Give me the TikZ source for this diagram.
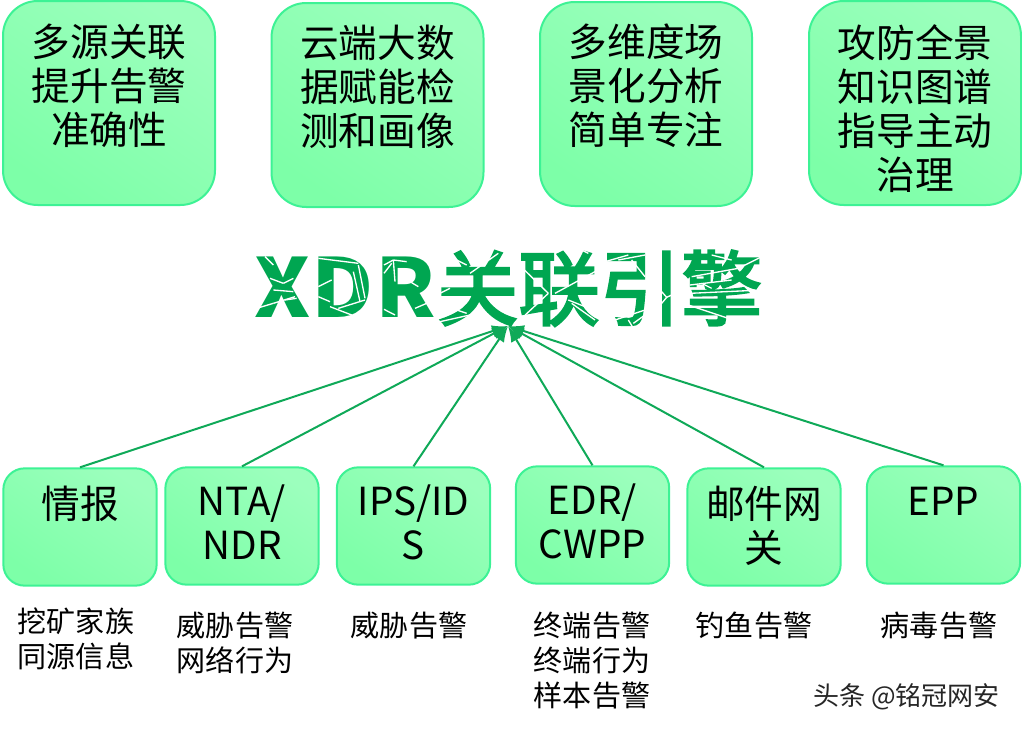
\documentclass[tikz,border=0pt]{standalone}
\usepackage{fontspec}
\setmainfont{Noto Sans CJK SC}
\usetikzlibrary{arrows.meta}
\definecolor{boxline}{HTML}{3DF295}
\definecolor{boxlight}{HTML}{9CFFBD}
\definecolor{boxdark}{HTML}{7DFFA8}
\definecolor{titlegreen}{HTML}{00A651}
\definecolor{arrowgreen}{HTML}{0FA958}
\tikzset{
	bigbox/.style={draw=boxline,line width=1.5pt,rounded corners=26pt,top color=boxlight,bottom color=boxdark,shading angle=-35,inner sep=0pt},
	smallbox/.style={bigbox,rounded corners=16pt},
	boxtext/.style={anchor=north,align=center,inner sep=0pt,font=\fontsize{29}{33}\selectfont},
	notetext/.style={anchor=north,align=center,inner sep=0pt,font=\fontsize{21.8}{26}\selectfont},
	feed/.style={draw=arrowgreen,line width=1.5pt,-{Latex[length=12pt,width=9pt]}},
	crack/.style={draw=white,line width=1pt}
}
\begin{document}
\begin{tikzpicture}[x=0.75pt,y=-0.75pt]
	
	\useasboundingbox (0,0) rectangle (1022,732);
	
	\node[bigbox,minimum width=159pt,minimum height=153pt] (multi) at (109,103) {};
	\node[bigbox,minimum width=159pt,minimum height=153pt] (cloud) at (377.5,105) {};
	\node[bigbox,minimum width=159pt,minimum height=153pt] (scene) at (646,104) {};
	\node[bigbox,minimum width=159pt,minimum height=153pt] (graph) at (915,103) {};
	
	\node[boxtext] (multitext) at (109,24) {多源关联\\提升告警\\准确性};
	\node[boxtext] (cloudtext) at (377.5,25) {云端大数\\据赋能检\\测和画像};
	\node[boxtext] (scenetext) at (646,24) {多维度场\\景化分析\\简单专注};
	\node[boxtext] (graphtext) at (915,24) {攻防全景\\知识图谱\\指导主动\\治理};
	
	\node[anchor=base west,inner sep=0pt,text=titlegreen,font=\fontsize{61}{61}\selectfont] (engine) at (254,319) {\raisebox{1.5pt}{\bfseries\addfontfeature{FakeStretch=1.05}X\kern1ptD\kern1.5ptR}\kern0.5pt\addfontfeature{FakeBold=3}关联引擎};
	\begin{scope}[shift={(250,240)},x=0.25pt,y=-0.25pt]
		\foreach \ax/\ay/\bx/\by in {
			45/50/70/75, 60/115/100/130, 100/130/130/115, 70/150/130/155,
			20/205/70/190, 70/190/135/170, 105/180/140/175,
			205/55/325/70, 205/140/245/120, 325/75/345/175, 205/170/240/185,
			240/200/305/225, 265/205/345/180, 310/95/330/185,
			402/75/430/60, 430/60/470/65, 430/60/435/125, 402/100/425/70,
			402/208/435/225, 480/125/505/140, 495/205/530/190,
			600/50/650/75, 660/100/745/40, 560/165/600/145,
			620/210/650/220, 570/245/660/225
		}
			\draw[crack] (\ax,\ay) -- (\bx,\by);
	\end{scope}
	\begin{scope}[shift={(505,240)},x=0.25pt,y=-0.25pt]
		\foreach \ax/\ay/\bx/\by in {
			40/72/130/160, 130/160/50/235, 150/160/270/95, 230/30/250/40,
			190/180/240/200, 200/190/270/240,
			300/65/370/45, 340/60/420/45, 380/60/420/110, 330/240/420/210,
			370/240/385/265, 385/250/420/225,
			470/155/485/172, 485/172/470/190, 485/172/500/165,
			560/110/700/85, 700/85/770/50, 555/135/680/120, 555/160/770/150,
			550/195/670/235, 590/130/620/145, 620/45/680/60
		}
			\draw[crack] (\ax,\ay) -- (\bx,\by);
	\end{scope}
	
	\coordinate (hub) at (508,326);
	
	\node[smallbox,minimum width=115pt,minimum height=88pt] (intel) at (80,527) {};
	\node[smallbox,minimum width=115pt,minimum height=88pt] (nta) at (242,526) {};
	\node[smallbox,minimum width=115pt,minimum height=88pt] (ips) at (413.5,526) {};
	\node[smallbox,minimum width=115pt,minimum height=88pt] (edr) at (592.5,525) {};
	\node[smallbox,minimum width=115pt,minimum height=88pt] (mail) at (764,527) {};
	\node[smallbox,minimum width=115pt,minimum height=88pt] (epp) at (943.5,525) {};
	
	\node[boxtext] (inteltext) at (80,486) {情报};
	\node[boxtext] (ntatext) at (242,485) {NTA/\\NDR};
	\node[boxtext] (ipstext) at (413.5,485) {IPS/ID\\S};
	\node[boxtext] (edrtext) at (592.5,484) {EDR/\\CWPP};
	\node[boxtext] (mailtext) at (764,486) {邮件网\\关};
	\node[boxtext] (epptext) at (943.5,487) {EPP};
	
	\draw[feed] (intel.north) -- (hub);
	\draw[feed] (nta.north) -- (hub);
	\draw[feed] (ips.north) -- (hub);
	\draw[feed] (edr.north) -- (hub);
	\draw[feed] (mail.north) -- (hub);
	\draw[feed] (epp.north) -- (hub);
	
	\node[notetext] (intelnote) at (76,608) {挖矿家族\\同源信息};
	\node[notetext] (ntanote) at (235,612) {威胁告警\\网络行为};
	\node[notetext] (ipsnote) at (409,612) {威胁告警};
	\node[notetext] (edrnote) at (592,612) {终端告警\\终端行为\\样本告警};
	\node[notetext] (mailnote) at (754,612) {钓鱼告警};
	\node[notetext] (eppnote) at (939,612) {病毒告警};
	
	\node[anchor=west,inner sep=0pt,text=black!85,font=\fontsize{19.5}{22}\selectfont] (mark) at (813,697) {头条 @铭冠网安};
	
\end{tikzpicture}
\end{document}
